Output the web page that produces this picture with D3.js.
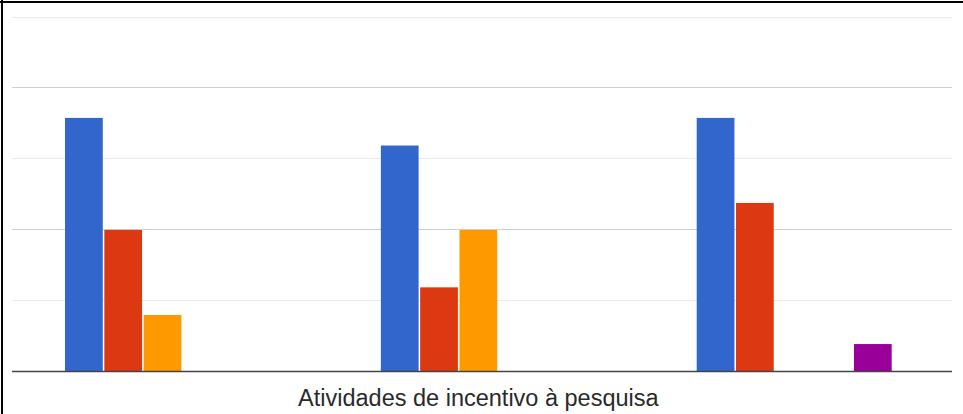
<!DOCTYPE html>
<html>
<head>
<meta charset="utf-8">
<script src="https://cdn.jsdelivr.net/npm/d3@7"></script>
<style>
  body { margin: 0; background: #fff; }
  svg { display: block; }
</style>
</head>
<body>
<div id="chart"></div>
<script>
// Data (values in %)
var categories = ["Grupo 1", "Grupo 2", "Grupo 3"];
var seriesNames = ["s1", "s2", "s3", "s4", "s5"];
var seriesColors = ["#3366cc", "#dc3912", "#ff9900", "#109618", "#990099"];
var blueValues = [35.7, 31.8, 35.7];
var redValues = [19.9, 11.8, 23.7];
var orangeValues = [7.9, 19.9, 0];
var greenValues = [0, 0, 0];
var purpleValues = [0, 0, 3.8];
var yTicks = [10, 20, 30, 40, 50];
var majorTicks = [20, 40];
var axisTitle = "Atividades de incentivo à pesquisa";

var allValues = [blueValues, redValues, orangeValues, greenValues, purpleValues];

var width = 963;
var height = 414;

var svg = d3.select("#chart")
  .append("svg")
  .attr("width", width)
  .attr("height", height);

// frame lines (top and left only)
svg.append("rect").attr("x", 0).attr("y", 1).attr("width", width).attr("height", 2).attr("fill", "#000");
svg.append("rect").attr("x", 1).attr("y", 0).attr("width", 2).attr("height", height).attr("fill", "#000");

// scales
var x0 = d3.scaleBand()
  .domain(d3.range(categories.length))
  .range([4.6, 952.1])
  .paddingInner(0.3826)
  .paddingOuter(0.1913);

var x1 = d3.scaleBand()
  .domain(seriesNames)
  .range([0, x0.bandwidth()])
  .paddingInner(0.04);

var y = d3.scaleLinear()
  .domain([0, 50])
  .range([371, 16.5]);

var gridLeft = 12;
var gridRight = 952;

// gridlines
svg.append("g")
  .selectAll("line")
  .data(yTicks)
  .enter()
  .append("line")
  .attr("x1", gridLeft)
  .attr("x2", gridRight)
  .attr("y1", function(d) { return Math.round(y(d)) + 0.5; })
  .attr("y2", function(d) { return Math.round(y(d)) + 0.5; })
  .attr("stroke", function(d) { return majorTicks.indexOf(d) >= 0 ? "#d0d0d0" : "#ebebeb"; })
  .attr("stroke-width", 1.2);

// bars
var groups = svg.append("g")
  .selectAll("g")
  .data(categories)
  .enter()
  .append("g")
  .attr("transform", function(d, i) { return "translate(" + x0(i) + ",0)"; });

groups.selectAll("rect")
  .data(function(d, i) {
    return seriesNames.map(function(s, k) {
      return { series: s, value: allValues[k][i], color: seriesColors[k] };
    });
  })
  .enter()
  .append("rect")
  .filter(function(d) { return d.value > 0; })
  .attr("x", function(d) { return x1(d.series); })
  .attr("y", function(d) { return y(d.value); })
  .attr("width", x1.bandwidth())
  .attr("height", function(d) { return y(0) - y(d.value); })
  .attr("fill", function(d) { return d.color; });

// baseline
svg.append("line")
  .attr("x1", gridLeft)
  .attr("x2", gridRight)
  .attr("y1", y(0) + 0.5)
  .attr("y2", y(0) + 0.5)
  .attr("stroke", "#444")
  .attr("stroke-width", 1.6);

// axis title
svg.append("text")
  .attr("x", (4.6 + 952.1) / 2)
  .attr("y", 406)
  .attr("text-anchor", "middle")
  .attr("font-family", "Arial, 'Liberation Sans', sans-serif")
  .attr("font-size", 23.5)
  .attr("fill", "#2a2a2a")
  .text(axisTitle);
</script>
</body>
</html>
